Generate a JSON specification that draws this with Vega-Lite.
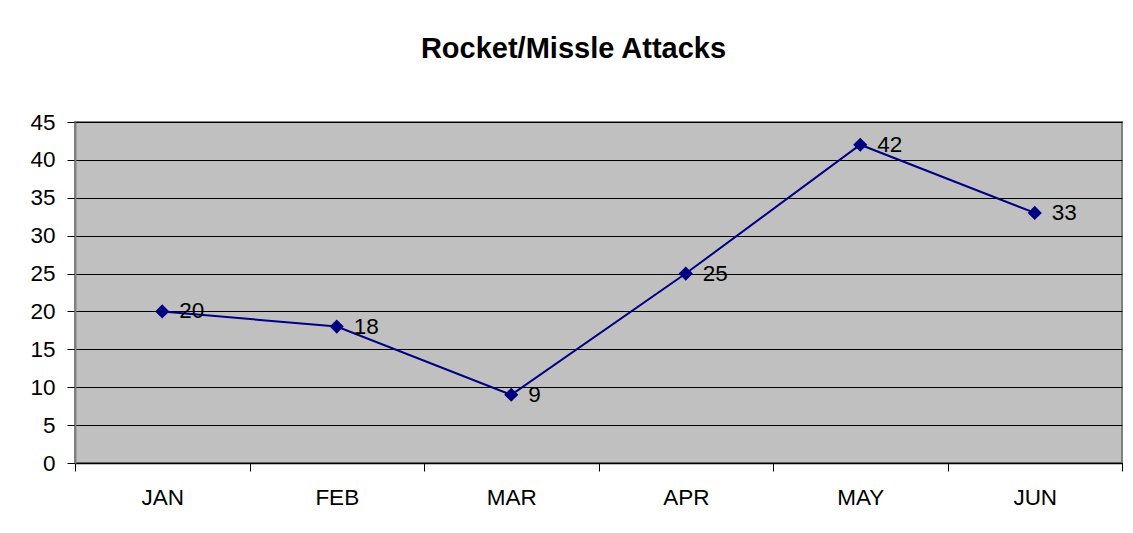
{
  "$schema": "https://vega.github.io/schema/vega-lite/v6.json",
  "width": 1047,
  "height": 341,
  "autosize": {"type": "none"},
  "padding": {"left": 75, "top": 122, "right": 11, "bottom": 70},
  "background": "white",
  "title": {
    "text": "Rocket/Missle Attacks",
    "font": "Liberation Sans",
    "fontSize": 29,
    "fontWeight": "bold",
    "color": "black",
    "anchor": "middle",
    "frame": "group",
    "baseline": "alphabetic",
    "dx": -25,
    "offset": 24
  },
  "config": {
    "view": {"fill": "#C0C0C0", "stroke": "#808080", "strokeWidth": 2},
    "font": "Liberation Sans",
    "axis": {
      "labelFont": "Liberation Sans",
      "labelFontSize": 22.5,
      "labelColor": "black",
      "tickColor": "black",
      "tickSize": 8,
      "title": null
    }
  },
  "data": {
    "values": [
      {"month": "JAN", "attacks": 20},
      {"month": "FEB", "attacks": 18},
      {"month": "MAR", "attacks": 9},
      {"month": "APR", "attacks": 25},
      {"month": "MAY", "attacks": 42},
      {"month": "JUN", "attacks": 33}
    ]
  },
  "encoding": {
    "x": {
      "field": "month",
      "type": "ordinal",
      "sort": null,
      "scale": {"type": "band", "paddingInner": 0, "paddingOuter": 0},
      "axis": {
        "labelAngle": 0,
        "tickBand": "extent",
        "domainColor": "black",
        "domainWidth": 1.5,
        "labelPadding": 15,
        "grid": false
      }
    },
    "y": {
      "field": "attacks",
      "type": "quantitative",
      "scale": {"domain": [0, 45], "nice": false},
      "axis": {
        "values": [0, 5, 10, 15, 20, 25, 30, 35, 40, 45],
        "grid": true,
        "gridColor": "black",
        "gridWidth": 1,
        "gridOpacity": 1,
        "domainColor": "#808080",
        "domainWidth": 2,
        "labelPadding": 12
      }
    }
  },
  "layer": [
    {
      "mark": {"type": "line", "color": "#000080", "strokeWidth": 2}
    },
    {
      "mark": {"type": "point", "shape": "diamond", "filled": true, "size": 200, "color": "#000080", "opacity": 1}
    },
    {
      "mark": {"type": "text", "align": "left", "baseline": "middle", "dx": 17, "fontSize": 22.5, "font": "Liberation Sans", "color": "black"},
      "encoding": {"text": {"field": "attacks", "type": "quantitative"}}
    }
  ]
}
